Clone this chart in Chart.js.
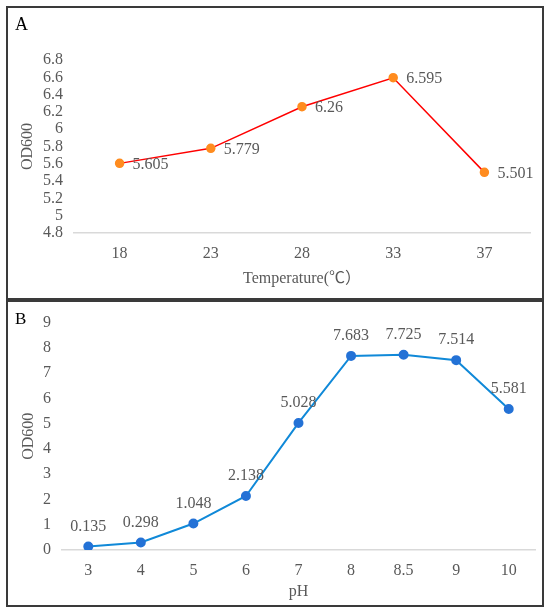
<!DOCTYPE html>
<html lang="en">
<head>
    <meta charset="UTF-8">
    <title>OD600 vs Temperature and pH</title>
    <script src="https://cdn.jsdelivr.net/npm/chart.js"></script>
    <style>
        body {
            margin: 0;
            width: 550px;
            height: 612px;
            background: #fff;
            position: relative;
            font-family: "Liberation Serif", serif;
        }
        .panel {
            position: absolute;
            left: 6px;
            width: 534px;
            border: 2px solid #3a3a3a;
        }
        .panel canvas {
            display: block;
        }
        .tag {
            position: absolute;
            line-height: 1;
            color: #000;
        }
    </style>
</head>
<body>
    <div class="panel" style="top:6px;height:290px;">
        <canvas id="chartA" width="534" height="290"></canvas>
    </div>
    <div class="panel" style="top:300px;height:303px;">
        <canvas id="chartB" width="534" height="303"></canvas>
    </div>
    <span class="tag" style="left:15px;top:15px;font-size:18px;">A</span>
    <span class="tag" style="left:15px;top:310px;font-size:17px;">B</span>

    <script>
        // panel A: temperature
        const tempLabels = ['18', '23', '28', '33', '37'];
        const tempOD = [5.605, 5.779, 6.26, 6.595, 5.501];

        // panel B: pH
        const phLabels = ['3', '4', '5', '6', '7', '8', '8.5', '9', '10'];
        const phOD = [0.135, 0.298, 1.048, 2.138, 5.028, 7.683, 7.725, 7.514, 5.581];

        const FONT = { family: '"Liberation Serif", "Noto Sans CJK SC", serif', size: 16 };
        const GREY = '#595959';

        // value labels next to / above each point
        const pointLabels = {
            id: 'pointLabels',
            afterDatasetsDraw(chart, args, opts) {
                const ctx = chart.ctx;
                const meta = chart.getDatasetMeta(0);
                const values = chart.data.datasets[0].data;
                ctx.save();
                ctx.font = FONT.size + 'px ' + FONT.family;
                ctx.fillStyle = GREY;
                ctx.textBaseline = 'middle';
                ctx.textAlign = opts.side === 'right' ? 'left' : 'center';
                meta.data.forEach((pt, i) => {
                    const txt = String(values[i]);
                    if (opts.side === 'right') {
                        ctx.fillText(txt, pt.x + 13, pt.y + 1);
                    } else {
                        ctx.fillText(txt, pt.x, pt.y - 20);
                    }
                });
                ctx.restore();
            }
        };

        const makeOptions = (cfg) => ({
            responsive: false,
            animation: false,
            layout: { padding: cfg.padding },
            plugins: {
                legend: { display: false },
                tooltip: { enabled: false },
                pointLabels: { side: cfg.side }
            },
            scales: {
                x: {
                    offset: true,
                    grid: { display: false, drawTicks: false },
                    border: { display: true, color: '#d9d9d9', width: 1.5 },
                    ticks: { color: GREY, font: FONT, padding: 11, maxRotation: 0, autoSkip: false },
                    title: { display: true, text: cfg.xTitle, color: GREY, font: FONT, padding: 0 },
                    afterFit: (scale) => { scale.height = cfg.xHeight; }
                },
                y: {
                    min: cfg.yMin,
                    max: cfg.yMax,
                    grid: { display: false, drawTicks: false },
                    border: { display: false },
                    ticks: {
                        stepSize: cfg.yStep,
                        autoSkip: false,
                        color: GREY,
                        font: FONT,
                        padding: 11,
                        callback: (v) => String(+v.toFixed(1))
                    },
                    title: { display: true, text: 'OD600', color: GREY, font: FONT, padding: 0 },
                    afterFit: (scale) => { scale.width = cfg.yWidth; }
                }
            }
        });

        new Chart(document.getElementById('chartA'), {
            type: 'line',
            data: {
                labels: tempLabels,
                datasets: [{
                    data: tempOD,
                    borderColor: '#ff0000',
                    borderWidth: 1.5,
                    pointBackgroundColor: '#ff8c1f',
                    pointBorderColor: '#ff8c1f',
                    pointRadius: 4,
                    tension: 0
                }]
            },
            options: makeOptions({
                padding: { left: 10, right: 12, top: 52, bottom: 10 },
                side: 'right',
                xTitle: 'Temperature(℃）',
                xHeight: 55,
                yWidth: 56,
                yMin: 4.8,
                yMax: 6.8,
                yStep: 0.2
            }),
            plugins: [pointLabels]
        });

        new Chart(document.getElementById('chartB'), {
            type: 'line',
            data: {
                labels: phLabels,
                datasets: [{
                    data: phOD,
                    borderColor: '#1089d8',
                    borderWidth: 2,
                    pointBackgroundColor: '#2472d6',
                    pointBorderColor: '#2472d6',
                    pointRadius: 4,
                    tension: 0
                }]
            },
            options: makeOptions({
                padding: { left: 11, right: 7, top: 20, bottom: 4 },
                side: 'top',
                xTitle: 'pH',
                xHeight: 51,
                yWidth: 43,
                yMin: 0,
                yMax: 9,
                yStep: 1
            }),
            plugins: [pointLabels]
        });
    </script>
</body>
</html>
